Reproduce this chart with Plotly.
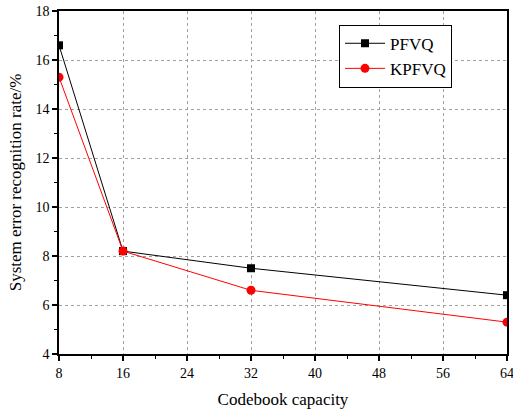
import plotly.graph_objects as go

# Codebook capacity and recognition error rates
capacity = [8, 16, 32, 64]
pfvq = [16.6, 8.2, 7.5, 6.4]
kpfvq = [15.3, 8.2, 6.6, 5.3]

font_family = "Liberation Serif, Times New Roman, serif"

fig = go.Figure()
fig.add_trace(go.Scatter(
    x=capacity, y=pfvq, name="PFVQ", mode="lines+markers",
    line=dict(color="black", width=1),
    marker=dict(symbol="square", size=8, color="black"),
))
fig.add_trace(go.Scatter(
    x=capacity, y=kpfvq, name="KPFVQ", mode="lines+markers",
    line=dict(color="red", width=1),
    marker=dict(symbol="circle", size=9, color="red"),
))

axis_common = dict(
    showline=True, linecolor="black", linewidth=1.5, mirror=True,
    ticks="outside", ticklen=5, tickwidth=1.5, tickcolor="black",
    showgrid=True, gridcolor="#a0a0a0", griddash="3px,3px", gridwidth=1,
    zeroline=False, automargin=False, ticklabeloverflow="allow",
    tickfont=dict(family=font_family, size=14, color="black"),
    title_font=dict(family=font_family, size=17, color="black"),
)

fig.update_xaxes(
    range=[8, 64], tickmode="linear", tick0=8, dtick=8,
    minor=dict(ticks="outside", ticklen=3, tickwidth=1.2, tickcolor="black", dtick=4, tick0=8),
    title_text="Codebook capacity", title_standoff=14,
    **axis_common,
)
fig.update_yaxes(
    range=[4, 18], tickmode="linear", tick0=4, dtick=2,
    minor=dict(ticks="outside", ticklen=3, tickwidth=1.2, tickcolor="black", dtick=1, tick0=4),
    title_text="System error recognition rate/%", title_standoff=10,
    **axis_common,
)

fig.update_layout(
    width=513, height=411,
    margin=dict(l=59, r=6, t=11, b=57),
    paper_bgcolor="white", plot_bgcolor="white",
    showlegend=True,
    legend=dict(
        x=0.625, y=0.96, xanchor="left", yanchor="top",
        bgcolor="white", bordercolor="black", borderwidth=1,
        font=dict(family=font_family, size=17, color="black"),
        itemwidth=40, tracegroupgap=0,
    ),
)

fig.write_html("out.html")
